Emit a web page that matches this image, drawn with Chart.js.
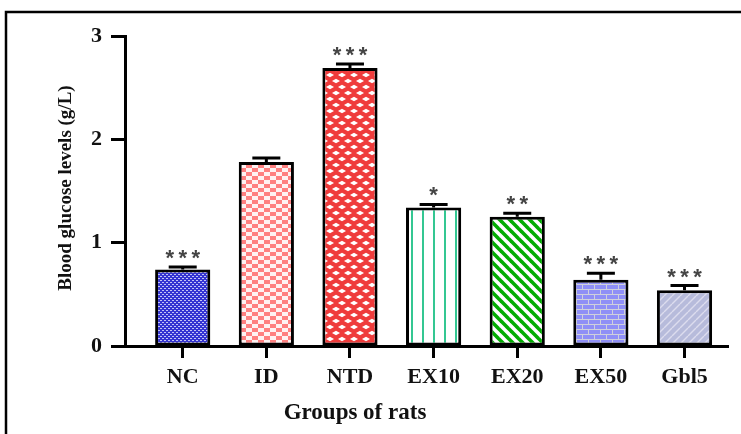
<!DOCTYPE html>
<html>
<head>
<meta charset="utf-8">
<script src="https://cdn.jsdelivr.net/npm/chart.js@4.4.1/dist/chart.umd.min.js"></script>
<style>
  html, body { margin: 0; padding: 0; background: #fff; }
  #wrap { width: 741px; height: 434px; }
</style>
</head>
<body>
<div id="wrap"><canvas id="c" width="741" height="434"></canvas></div>
<script>
// Blood glucose per group (g/L), SEM and significance marks
const groups = ['NC', 'ID', 'NTD', 'EX10', 'EX20', 'EX50', 'Gbl5'];
const glucose = [0.74, 1.78, 2.69, 1.34, 1.25, 0.64, 0.54];
const sem = [0.025, 0.04, 0.04, 0.03, 0.035, 0.065, 0.045];
const signif = ['***', '', '***', '*', '**', '***', '***'];
const yTicks = [0, 1, 2, 3];

const SERIF = "'Liberation Serif', 'Times New Roman', serif";
const canvas = document.getElementById('c');
const ctx = canvas.getContext('2d');

function tile(w, h, paint) {
  const t = document.createElement('canvas');
  t.width = w; t.height = h;
  const g = t.getContext('2d');
  paint(g, w, h);
  return ctx.createPattern(t, 'repeat');
}

// NC: blue with fine light dots
const patNC = tile(4, 4, (g) => {
  g.fillStyle = '#3434d2'; g.fillRect(0, 0, 4, 4);
  g.fillStyle = '#c4c4f6'; g.fillRect(0, 0, 2, 1); g.fillRect(2, 2, 2, 1);
});
// ID: salmon / white checkerboard
const patID = tile(12, 8, (g) => {
  g.fillStyle = '#fff2f2'; g.fillRect(0, 0, 12, 8);
  g.fillStyle = '#ff8080'; g.fillRect(0, 0, 6, 4); g.fillRect(6, 4, 6, 4);
});
// NTD: red lattice with white diamonds
const patNTD = tile(12, 12, (g) => {
  g.fillStyle = '#ef3b3b'; g.fillRect(0, 0, 12, 12);
  g.fillStyle = '#ffffff';
  const dia = (cx, cy) => {
    g.beginPath();
    g.moveTo(cx - 4, cy); g.lineTo(cx, cy - 2.3); g.lineTo(cx + 4, cy); g.lineTo(cx, cy + 2.3);
    g.closePath(); g.fill();
  };
  dia(6, 3); dia(0, 9); dia(12, 9);
});
// EX10: thin vertical teal lines on white
const patEX10 = tile(11, 2, (g) => {
  g.fillStyle = '#ffffff'; g.fillRect(0, 0, 11, 2);
  g.fillStyle = '#34c792'; g.fillRect(4, 0, 2, 2);
});
// EX20: green diagonal stripes
const patEX20 = tile(10, 10, (g) => {
  g.fillStyle = '#ffffff'; g.fillRect(0, 0, 10, 10);
  g.strokeStyle = '#02ad02'; g.lineWidth = 3.6;
  for (const o of [-10, 0, 10]) {
    g.beginPath(); g.moveTo(o - 2, -2); g.lineTo(o + 12, 12); g.stroke();
  }
});
// EX50: lavender bricks
const patEX50 = tile(12, 10, (g) => {
  g.fillStyle = '#8f8ff6'; g.fillRect(0, 0, 12, 10);
  g.fillStyle = '#cfd0dc';
  g.fillRect(0, 4, 12, 1); g.fillRect(0, 9, 12, 1);
  g.fillRect(0, 0, 1, 4); g.fillRect(6, 5, 1, 4);
});
// Gbl5: greyish lavender with faint diagonal hatching
const patGbl = tile(8, 8, (g) => {
  g.fillStyle = '#b7bbdb'; g.fillRect(0, 0, 8, 8);
  g.strokeStyle = '#dcdcee'; g.lineWidth = 1.4;
  for (const o of [-8, 0, 8]) {
    g.beginPath(); g.moveTo(o, 8); g.lineTo(o + 8, 0); g.stroke();
  }
});
const fills = [patNC, patID, patNTD, patEX10, patEX20, patEX50, patGbl];

// Outer frame
const framePlugin = {
  id: 'frame',
  beforeDraw(chart) {
    const c = chart.ctx;
    c.save();
    c.fillStyle = '#fff';
    c.fillRect(0, 0, chart.width, chart.height);
    c.strokeStyle = '#000'; c.lineWidth = 2.5;
    c.beginPath();
    c.moveTo(6, 434); c.lineTo(6, 12); c.lineTo(741, 12);
    c.stroke();
    c.restore();
  }
};

// Error bars (upper half) and significance marks
const errPlugin = {
  id: 'errbars',
  afterDatasetsDraw(chart) {
    const c = chart.ctx;
    const xs = chart.scales.x, ys = chart.scales.y;
    c.save();
    c.strokeStyle = '#000'; c.lineWidth = 3;
    groups.forEach((g, i) => {
      const x = xs.getPixelForValue(i);
      const yTop = ys.getPixelForValue(glucose[i]);
      const yErr = ys.getPixelForValue(glucose[i] + sem[i]);
      c.beginPath();
      c.moveTo(x, yTop); c.lineTo(x, yErr);
      c.moveTo(x - 14, yErr); c.lineTo(x + 14, yErr);
      c.stroke();
      const n = signif[i].length;
      if (n) {
        c.fillStyle = '#444';
        c.font = "bold 22px 'Liberation Sans', Arial, sans-serif";
        c.textAlign = 'center';
        c.textBaseline = 'alphabetic';
        for (let k = 0; k < n; k++) {
          const sx = x + (k - (n - 1) / 2) * 13;
          c.fillText('*', sx, yErr - 2);
        }
      }
    });
    c.restore();
  }
};

// Axis titles
const titlePlugin = {
  id: 'axisTitles',
  afterDraw(chart) {
    const c = chart.ctx;
    c.save();
    c.fillStyle = '#111';
    c.font = 'bold 23px ' + SERIF;
    c.textAlign = 'center'; c.textBaseline = 'middle';
    c.fillText('Groups of rats', 355, 413);
    c.translate(66, 188);
    c.rotate(-Math.PI / 2);
    c.font = 'bold 19px ' + SERIF;
    c.fillText('Blood glucose levels (g/L)', 0, 0);
    c.restore();
  }
};

new Chart(canvas, {
  type: 'bar',
  data: {
    datasets: [{
      data: glucose.map((v, i) => ({ x: i, y: v })),
      backgroundColor: fills,
      borderColor: '#000',
      borderWidth: 3,
      borderSkipped: false,
      barPercentage: 0.66,
      categoryPercentage: 1
    }]
  },
  options: {
    responsive: false,
    animation: false,
    events: [],
    layout: { padding: { left: 0, top: 36, right: 13, bottom: 0 } },
    plugins: { legend: { display: false }, tooltip: { enabled: false } },
    scales: {
      x: {
        type: 'linear',
        offset: false,
        min: -0.69, max: 6.52,
        afterBuildTicks: (s) => { s.ticks = groups.map((_, i) => ({ value: i })); },
        afterFit: (s) => { s.height = 88; },
        grid: { offset: false, drawOnChartArea: false, drawTicks: true, tickLength: 12, tickColor: '#000', tickWidth: 3 },
        border: { display: true, color: '#000', width: 3 },
        ticks: {
          autoSkip: false, maxRotation: 0, padding: 6,
          color: '#111',
          font: { family: SERIF, size: 22, weight: 'bold' },
          callback: (v) => groups[v]
        }
      },
      y: {
        min: 0, max: 3,
        afterBuildTicks: (s) => { s.ticks = yTicks.map(v => ({ value: v })); },
        afterFit: (s) => { s.width = 125; },
        grid: { drawOnChartArea: false, drawTicks: true, tickLength: 14, tickColor: '#000', tickWidth: 3 },
        border: { display: true, color: '#000', width: 3 },
        ticks: {
          padding: 9,
          color: '#111',
          font: { family: SERIF, size: 22, weight: 'bold' }
        }
      }
    }
  },
  plugins: [framePlugin, errPlugin, titlePlugin]
});
</script>
</body>
</html>
